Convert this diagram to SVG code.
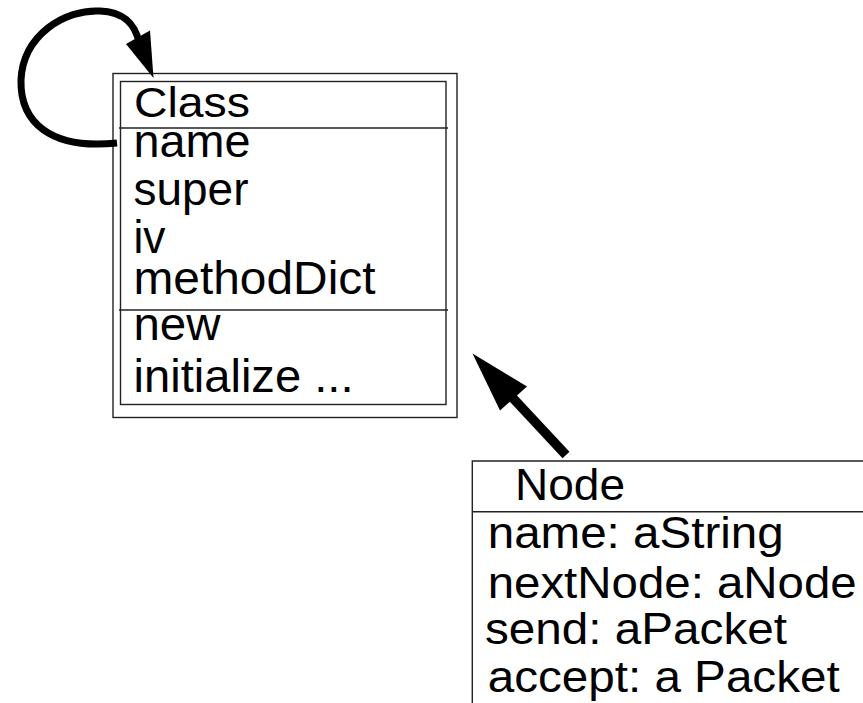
<svg xmlns="http://www.w3.org/2000/svg" width="863" height="703" viewBox="0 0 863 703">
<style>
.box{fill:none;stroke:#222;stroke-width:1.4}
.t{font-family:"Liberation Sans",Arial,sans-serif;font-size:46px;fill:#000}
.c{font-family:"Liberation Sans",Arial,sans-serif;font-size:42px;fill:#000}
.n{font-family:"Liberation Sans",Arial,sans-serif;font-size:45px;fill:#000}
</style>
<rect width="863" height="703" fill="#fff"/>
<g id="class-node">
<rect class="box" x="113" y="73.5" width="344" height="344"/>
<rect class="box" x="120.5" y="81.5" width="325.5" height="323"/>
<line class="box" x1="119" y1="128" x2="448" y2="128"/>
<line class="box" x1="119" y1="310" x2="448" y2="310"/>
<text class="c" x="134" y="117" textLength="116" lengthAdjust="spacingAndGlyphs">Class</text>
<text class="t" x="133.5" y="157" textLength="117" lengthAdjust="spacingAndGlyphs">name</text>
<text class="t" x="133.5" y="205" textLength="115" lengthAdjust="spacingAndGlyphs">super</text>
<text class="t" x="133.5" y="253" textLength="32" lengthAdjust="spacingAndGlyphs">iv</text>
<text class="t" x="133.5" y="294" textLength="242" lengthAdjust="spacingAndGlyphs">methodDict</text>
<text class="t" x="133.5" y="340" textLength="87" lengthAdjust="spacingAndGlyphs">new</text>
<text class="t" x="133.5" y="391.5" textLength="220" lengthAdjust="spacingAndGlyphs">initialize ...</text>
</g>
<g id="node-node">
<polyline class="box" points="472.3,703 472.3,461 863,461"/>
<line class="box" x1="472.3" y1="511.7" x2="863" y2="511.7"/>
<text class="n" x="515" y="500" textLength="110" lengthAdjust="spacingAndGlyphs">Node</text>
<text class="n" x="487.7" y="548.3" textLength="296" lengthAdjust="spacingAndGlyphs">name: aString</text>
<text class="n" x="487.7" y="598.3" textLength="369" lengthAdjust="spacingAndGlyphs">nextNode: aNode</text>
<text class="n" x="485" y="643.5" textLength="302" lengthAdjust="spacingAndGlyphs">send: aPacket</text>
<text class="n" x="487.7" y="691.7" textLength="352" lengthAdjust="spacingAndGlyphs">accept: a Packet</text>
</g>
<g id="connectors">
<path d="M117,143 C50,150 20,122 21,80 C23,35 65,9 100,11 C125,12 135,25 139,42" fill="none" stroke="#000" stroke-width="7"/>
<polygon points="153.5,78 126,44 150,30.5" fill="#000"/>
<line x1="566" y1="455" x2="510" y2="395" stroke="#000" stroke-width="9.5"/>
<polygon points="472.5,353.5 500,410.5 527,386.5" fill="#000"/>
</g>
</svg>
